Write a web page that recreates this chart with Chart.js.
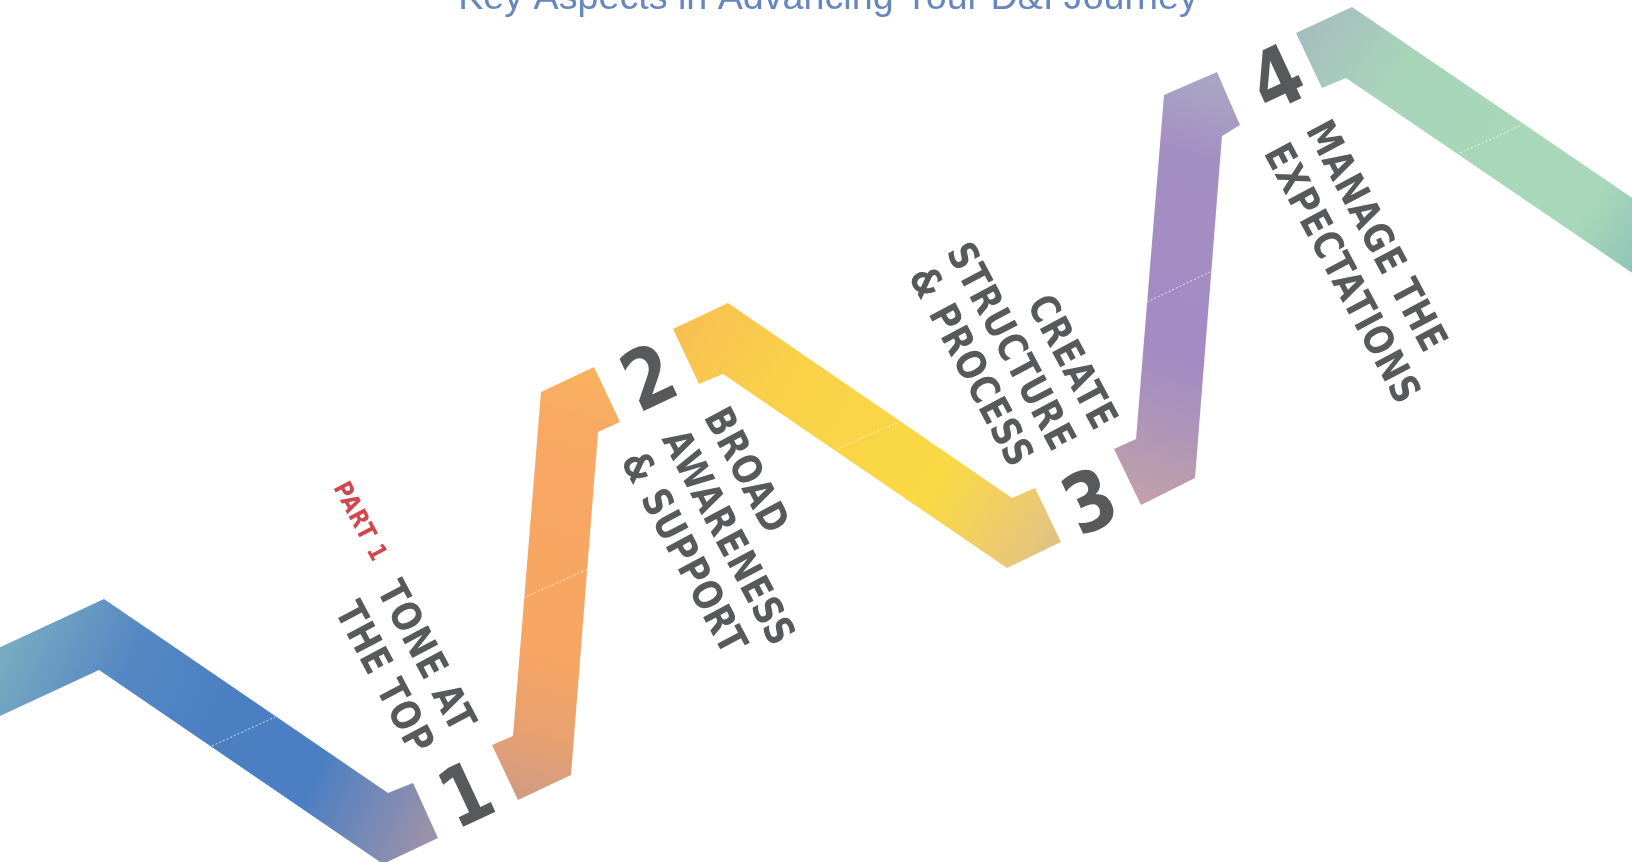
<!DOCTYPE html>
<html lang="en">
<head>
    <meta charset="UTF-8">
    <title>Key Aspects in Advancing Your D&amp;I Journey</title>

    <!-- Chart.js -->
    <script src="https://cdn.jsdelivr.net/npm/chart.js"></script>

    <style>
        html, body {
            margin: 0;
            padding: 0;
            background-color: #ffffff;
            overflow: hidden;
        }
        .chart-box {
            position: relative;
            width: 1632px;
            height: 862px;
        }
    </style>
</head>
<body>

<div class="chart-box">
    <canvas id="journeyChart"></canvas>
</div>

<script>
  // Ribbon outline of each part (x to the right, y downward, page units)
  const part1X = [-60, 104, 388, 413, 438, 383, 99, -60];
  const part1Y = [675, 599, 793, 783, 838, 864, 670, 744];

  const part2X = [492, 513, 541, 594, 620, 598, 571, 518];
  const part2Y = [745, 736, 392, 367, 422, 432, 775, 800];

  const part3X = [673, 728, 1012, 1035, 1061, 1007, 723, 699];
  const part3Y = [329, 303, 498, 488, 542, 568, 374, 384];

  const part4X = [1114, 1136, 1164, 1217, 1240, 1222, 1195, 1141];
  const part4Y = [449, 439, 95, 72, 125, 136, 478, 505];

  const part5X = [1296, 1352, 1700, 1700, 1346, 1322];
  const part5Y = [33, 7, 244, 319, 78, 88];

  // faint fold line across the middle of each part
  const foldX = [[212, 275], [523, 588], [837, 898], [1147, 1210], [1460, 1522]];
  const foldY = [[746, 717], [598, 569], [449, 422], [302, 272], [153, 125]];

  // texts
  const chartTitle = 'Key Aspects in Advancing Your D&I Journey';
  const stepNumbers = ['1', '2', '3', '4'];
  const stepTitles = [
      ['TONE AT', 'THE TOP'],
      ['BROAD', 'AWARENESS', '& SUPPORT'],
      ['CREATE', 'STRUCTURE', '& PROCESS'],
      ['MANAGE THE', 'EXPECTATIONS']
  ];
  const partTag = 'PART 1';

  // where the texts sit (page units)
  const numberX = [465, 648, 1089, 1276];
  const numberY = [793, 376, 500, 77];
  // start of each line (end for the right aligned block 3)
  const titleLineX = [[389, 347], [716, 674, 633], [1108, 1066, 1024], [1318, 1276]];
  const titleLineY = [[583, 604], [410, 432, 454], [426, 447, 463], [123, 146]];
  const titleAlign = ['left', 'left', 'right', 'left'];

  // gradient for each part: stops and the page line it runs along
  const partColors = [
      { from: [-20, 640], to: [440, 845], stops: [[0, '#7fb3c1'], [0.28, '#5688c3'], [0.5, '#4a7fc2'], [0.72, '#4c7fc3'], [1, '#a394a6']] },
      { from: [490, 800], to: [622, 368], stops: [[0, '#cc9a86'], [0.18, '#e9a16f'], [0.35, '#f7a562'], [0.85, '#f8a964'], [1, '#fab45e']] },
      { from: [673, 330], to: [1061, 560], stops: [[0, '#f8bf52'], [0.25, '#f9d149'], [0.68, '#f9d944'], [0.85, '#efcc6b'], [1, '#dcc089']] },
      { from: [1120, 500], to: [1240, 75], stops: [[0, '#c3a1a8'], [0.2, '#ad94b9'], [0.35, '#a38bc3'], [0.8, '#a48fc3'], [1, '#aaa9c2']] },
      { from: [1296, 40], to: [1640, 280], stops: [[0, '#a6bdbe'], [0.25, '#a8d5ba'], [0.8, '#a8d8b9'], [1, '#8cc1b8']] }
  ];

  function toPoints(xs, ys) {
      const pts = xs.map((x, i) => ({ x: x, y: ys[i] }));
      pts.push({ x: xs[0], y: ys[0] }); // close the outline
      return pts;
  }

  function ribbonFill(style) {
      return function (context) {
          const chart = context.chart;
          const { ctx, chartArea, scales } = chart;
          if (!chartArea) {
              return style.stops[2][1];
          }
          const g = ctx.createLinearGradient(
              scales.x.getPixelForValue(style.from[0]), scales.y.getPixelForValue(style.from[1]),
              scales.x.getPixelForValue(style.to[0]), scales.y.getPixelForValue(style.to[1])
          );
          style.stops.forEach(s => g.addColorStop(s[0], s[1]));
          return g;
      };
  }

  const outlines = [[part1X, part1Y], [part2X, part2Y], [part3X, part3Y], [part4X, part4Y], [part5X, part5Y]];

  const datasets = outlines.map((o, i) => ({
      label: 'Part ' + (i + 1),
      data: toPoints(o[0], o[1]),
      backgroundColor: ribbonFill(partColors[i]),
      borderColor: 'rgba(0,0,0,0)',
      borderWidth: 0,
      fill: 'shape',
      pointRadius: 0,
      tension: 0,
      order: 2
  }));

  foldX.forEach((xs, i) => {
      datasets.push({
          label: 'fold ' + (i + 1),
          data: xs.map((x, k) => ({ x: x, y: foldY[i][k] })),
          borderColor: 'rgba(255,255,255,0.75)',
          borderWidth: 1,
          borderDash: [2, 2],
          fill: false,
          pointRadius: 0,
          order: 1
      });
  });

  // text drawn on top of the ribbon, placed through the chart scales
  const journeyText = {
      id: 'journeyText',
      afterDraw(chart) {
          const { ctx, scales } = chart;
          const px = v => scales.x.getPixelForValue(v);
          const py = v => scales.y.getPixelForValue(v);

          function rotatedText(text, x, y, deg, size, color, align, squeeze, spacing) {
              ctx.save();
              ctx.translate(x, y);
              ctx.rotate(deg * Math.PI / 180);
              ctx.scale(squeeze, 1);
              ctx.font = 'bold ' + size + 'px "DejaVu Sans", sans-serif';
              ctx.letterSpacing = spacing || '0px';
              ctx.fillStyle = color;
              ctx.textAlign = align;
              ctx.textBaseline = 'alphabetic';
              ctx.fillText(text, 0, size * 0.729 / 2);
              ctx.restore();
          }

          // title, cut off at the top like the source
          ctx.save();
          let size = 36;
          ctx.font = size + 'px "Liberation Sans", Arial, sans-serif';
          size = size * 740 / ctx.measureText(chartTitle).width;
          ctx.font = size + 'px "Liberation Sans", Arial, sans-serif';
          ctx.fillStyle = '#6586c0';
          ctx.textAlign = 'center';
          ctx.textBaseline = 'alphabetic';
          ctx.fillText(chartTitle, px(828), py(9));
          ctx.restore();

          // big step numbers
          stepNumbers.forEach((n, i) => {
              rotatedText(n, px(numberX[i]), py(numberY[i]), -25, 82, '#58595b', 'center', 0.85);
          });

          // step titles
          stepTitles.forEach((lines, i) => {
              lines.forEach((line, k) => {
                  rotatedText(line, px(titleLineX[i][k]), py(titleLineY[i][k]), 62, 40, '#58595b', titleAlign[i], 0.83, '1px');
              });
          });

          rotatedText(partTag, px(341), py(483), 62, 25, '#d0474e', 'left', 0.84, '1px');
      }
  };

  new Chart(document.getElementById('journeyChart'), {
      type: 'line',
      data: { datasets: datasets },
      options: {
          responsive: true,
          maintainAspectRatio: false,
          animation: false,
          events: [],
          layout: { padding: 0 },
          scales: {
              x: { type: 'linear', min: 0, max: 1632, display: false },
              y: { type: 'linear', min: 0, max: 862, reverse: true, display: false }
          },
          plugins: {
              legend: { display: false },
              tooltip: { enabled: false }
          }
      },
      plugins: [journeyText]
  });
</script>

</body>
</html>
